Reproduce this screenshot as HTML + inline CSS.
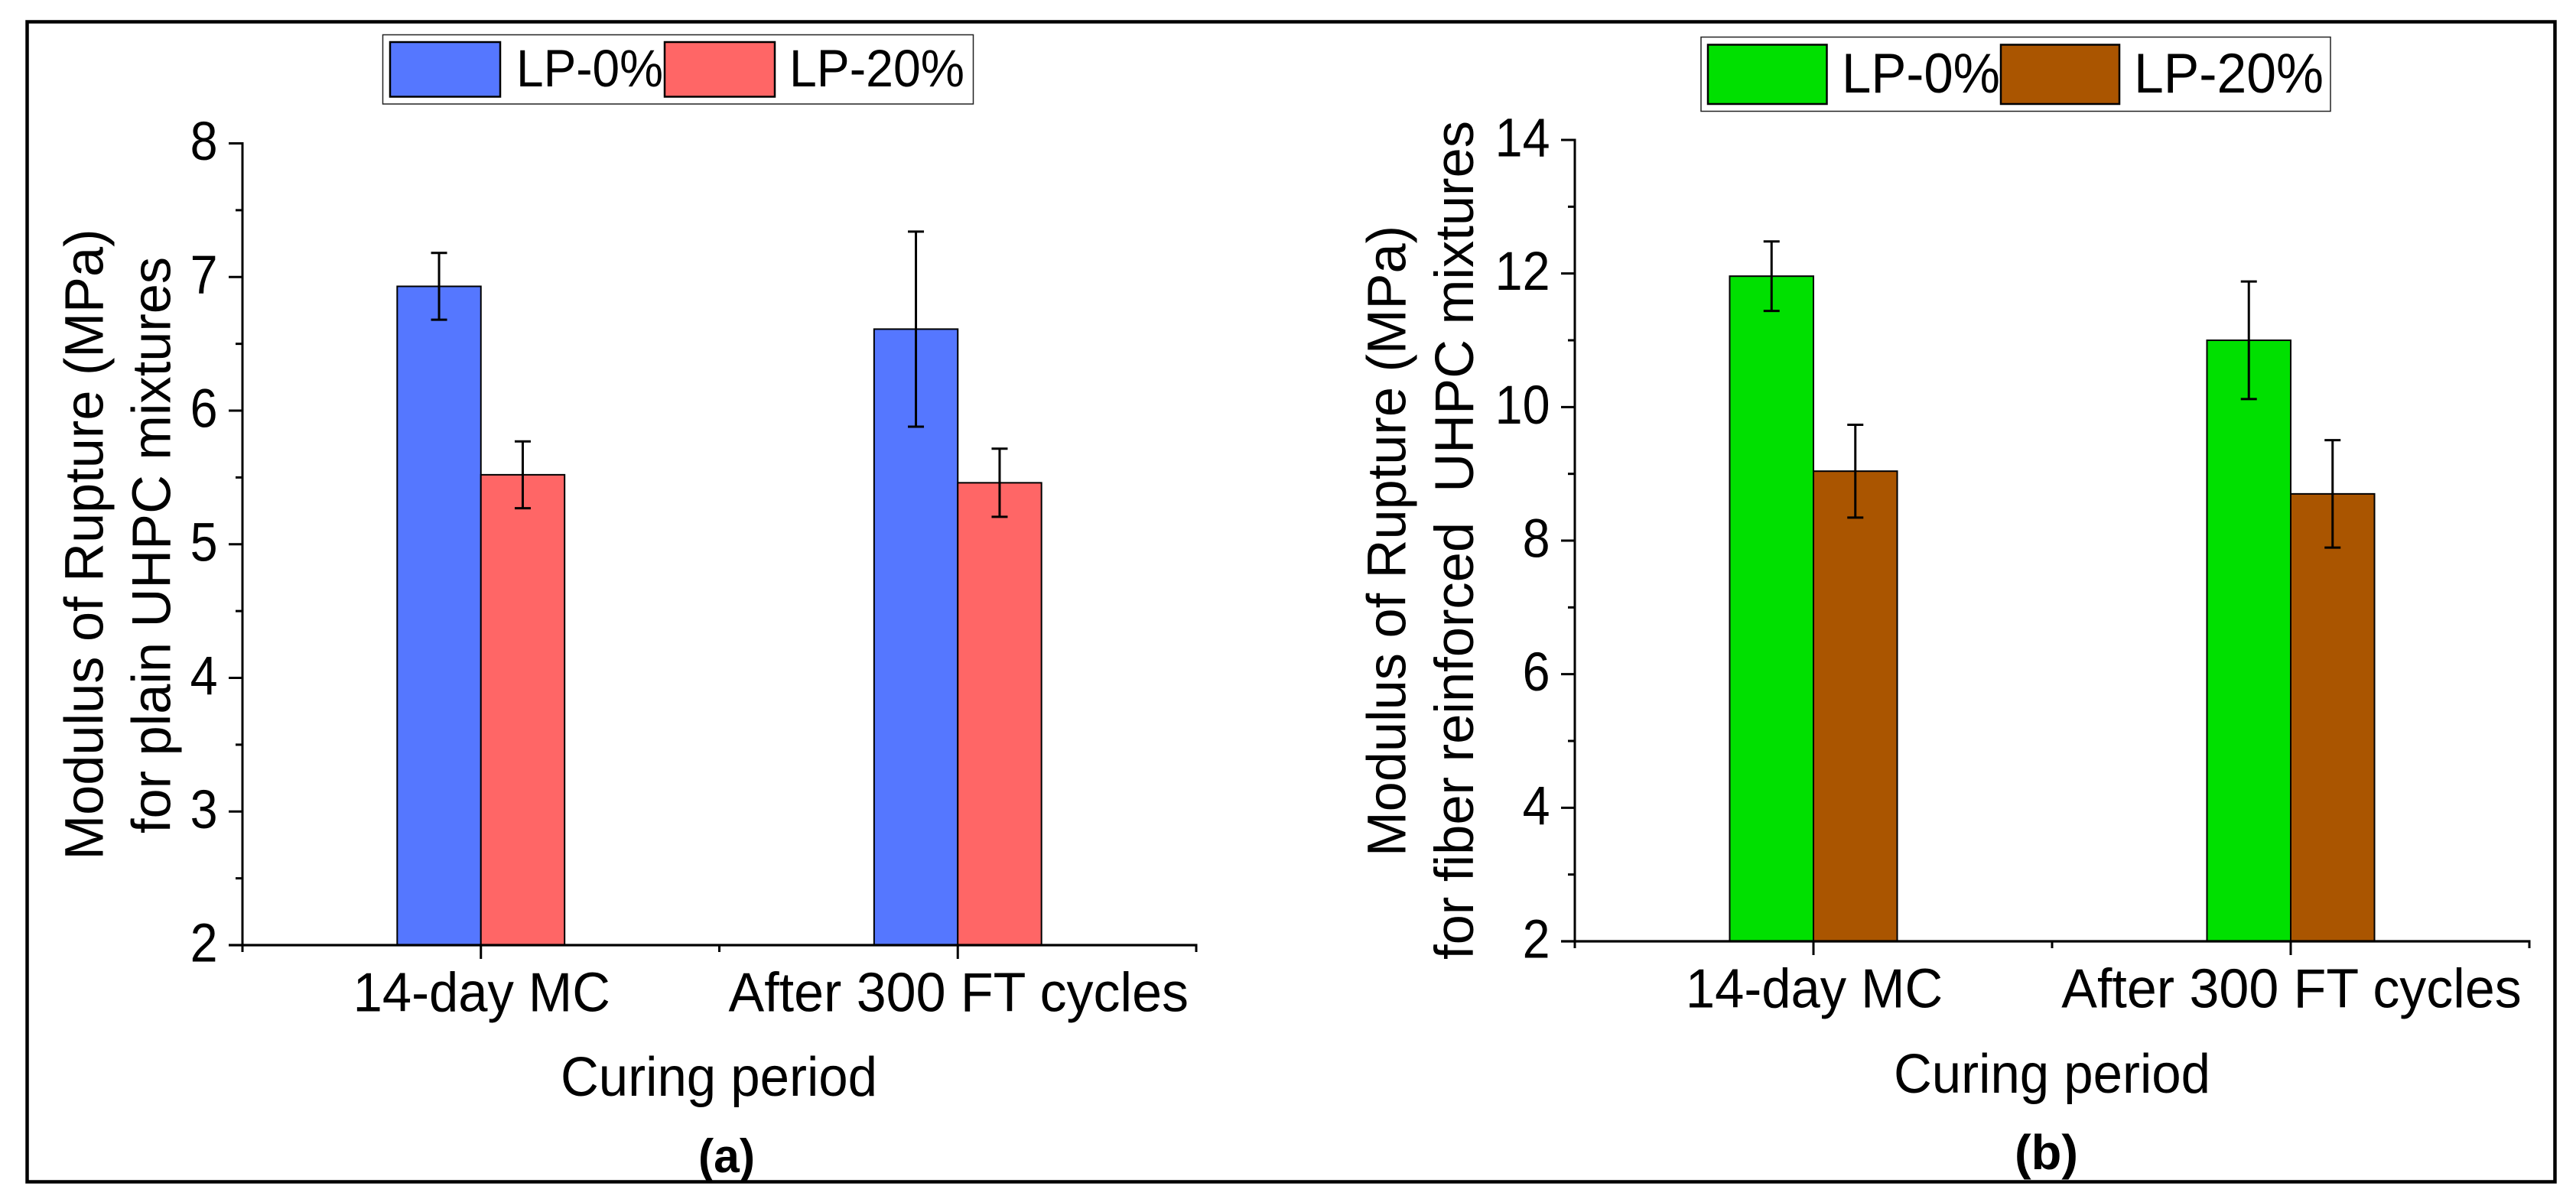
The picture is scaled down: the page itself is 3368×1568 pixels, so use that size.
<!DOCTYPE html>
<html lang="en">
<head>
<meta charset="utf-8">
<title>Modulus of Rupture of UHPC mixtures</title>
<style>
html,body{margin:0;padding:0;background:#fff;}
svg{display:block;}
text{font-family:"Liberation Sans",Arial,sans-serif;fill:#000;white-space:pre;}
</style>
</head>
<body>
<svg id="figure" xmlns="http://www.w3.org/2000/svg" width="3368" height="1568" viewBox="0 0 3368 1568">
  <rect x="0" y="0" width="3368" height="1568" fill="#fff"/>
  <rect x="35.5" y="28.5" width="3305" height="1517" fill="none" stroke="#000" stroke-width="4.5"/>

  <g id="panel-a">
    <g>
      <rect x="500.5" y="45.5" width="772" height="90.5" fill="#fff" stroke="#222" stroke-width="1.5"/>
      <rect x="510" y="55" width="144" height="71.5" fill="#5577ff" stroke="#000" stroke-width="2.5"/>
      <text x="675" y="113" font-size="69" textLength="192" lengthAdjust="spacingAndGlyphs">LP-0%</text>
      <rect x="869" y="55" width="144" height="71.5" fill="#ff6666" stroke="#000" stroke-width="2.5"/>
      <text x="1032" y="113" font-size="69" textLength="229" lengthAdjust="spacingAndGlyphs">LP-20%</text>
    </g>
    <text transform="translate(134.3,1124.5) rotate(-90)" font-size="71" textLength="825" lengthAdjust="spacingAndGlyphs">Modulus of Rupture (MPa)</text>
    <text transform="translate(222.7,1090) rotate(-90)" font-size="71" textLength="754" lengthAdjust="spacingAndGlyphs">for plain UHPC mixtures</text>
    <text x="733" y="1433" font-size="72" textLength="414" lengthAdjust="spacingAndGlyphs">Curing period</text>
    <text x="913" y="1533" font-size="62" font-weight="bold" textLength="74" lengthAdjust="spacingAndGlyphs">(a)</text>
  </g>

  <g id="panel-b">
    <g>
      <rect x="2224" y="48.5" width="823" height="97" fill="#fff" stroke="#222" stroke-width="1.5"/>
      <rect x="2233" y="58.5" width="155.5" height="77.5" fill="#00e000" stroke="#000" stroke-width="2.5"/>
      <text x="2408" y="121" font-size="73" textLength="207" lengthAdjust="spacingAndGlyphs">LP-0%</text>
      <rect x="2616" y="58.5" width="155" height="77.5" fill="#aa5500" stroke="#000" stroke-width="2.5"/>
      <text x="2790" y="121" font-size="73" textLength="248" lengthAdjust="spacingAndGlyphs">LP-20%</text>
    </g>
    <text transform="translate(1837.5,1120) rotate(-90)" font-size="71" textLength="825" lengthAdjust="spacingAndGlyphs">Modulus of Rupture (MPa)</text>
    <text transform="translate(1926,1255) rotate(-90)" font-size="71" textLength="1097" lengthAdjust="spacingAndGlyphs">for fiber reinforced  UHPC mixtures</text>
    <text x="2476" y="1429" font-size="72" textLength="414" lengthAdjust="spacingAndGlyphs">Curing period</text>
    <text x="2634" y="1529" font-size="64" font-weight="bold" textLength="83" lengthAdjust="spacingAndGlyphs">(b)</text>
  </g>
</svg>

<script>
const categories = ["14-day MC", "After 300 FT cycles"];

const yTicksA = [2, 3, 4, 5, 6, 7, 8];
const lp0ValuesA = [6.93, 6.61];
const lp20ValuesA = [5.52, 5.46];
const lp0ErrorsA = [0.25, 0.73];
const lp20ErrorsA = [0.25, 0.255];

const yTicksB = [2, 4, 6, 8, 10, 12, 14];
const lp0ValuesB = [11.96, 11.0];
const lp20ValuesB = [9.04, 8.70];
const lp0ErrorsB = [0.52, 0.88];
const lp20ErrorsB = [0.695, 0.805];

const SVG_NS = "http://www.w3.org/2000/svg";

function shape(parent, tag, props) {
  const el = document.createElementNS(SVG_NS, tag);
  for (const k in props) el.setAttribute(k, props[k]);
  parent.appendChild(el);
  return el;
}

function drawPanel(parent, cfg) {
  const plotW = cfg.xRight - cfg.xLeft;
  const xScale = function (pos) { return cfg.xLeft + (pos - 0.5) / 2 * plotW; };
  const yMin = cfg.ticks[0];
  const yMax = cfg.ticks[cfg.ticks.length - 1];
  const yScale = function (v) { return cfg.yBottom + (v - yMin) / (yMax - yMin) * (cfg.yTop - cfg.yBottom); };
  const barW = 0.1755 / 2 * plotW;

  const series = [
    { values: cfg.lp0, errors: cfg.lp0Err, color: cfg.colors[0], offset: -0.5, key: "lp0" },
    { values: cfg.lp20, errors: cfg.lp20Err, color: cfg.colors[1], offset: 0.5, key: "lp20" }
  ];

  series.forEach(function (s) {
    s.values.forEach(function (v, i) {
      const cx = xScale(i + 1) + s.offset * barW;
      const bar = shape(parent, "rect", {
        x: cx - barW / 2, y: yScale(v), width: barW, height: yScale(yMin) - yScale(v),
        fill: s.color, stroke: "#000", "stroke-width": 2
      });
      
      
    });
  });

  series.forEach(function (s) {
    s.values.forEach(function (v, i) {
      const cx = xScale(i + 1) + s.offset * barW;
      const top = yScale(v + s.errors[i]);
      const bot = yScale(v - s.errors[i]);
      const path = shape(parent, "path", {
        d: "M" + cx + " " + top + "V" + bot +
           "M" + (cx - 10.5) + " " + top + "H" + (cx + 10.5) +
           "M" + (cx - 10.5) + " " + bot + "H" + (cx + 10.5),
        fill: "none", stroke: "#000", "stroke-width": 3
      });
      
      
    });
  });

  const yAxis = shape(parent, "line", {
    x1: cfg.xLeft, x2: cfg.xLeft, y1: cfg.yTop - 1.5, y2: yScale(yMin) + 9,
    stroke: "#000", "stroke-width": 3
  });
  
  

  const xAxis = shape(parent, "line", {
    x1: cfg.xLeft - 18, x2: cfg.xRight + 1.5, y1: cfg.yBottom, y2: cfg.yBottom,
    stroke: "#000", "stroke-width": 3.2
  });
  
  

  cfg.ticks.forEach(function (t, i) {
    const y = yScale(t);
    const tick = shape(parent, "line", {
      x1: cfg.xLeft - 18, x2: cfg.xLeft, y1: y, y2: y, stroke: "#000", "stroke-width": 3
    });
    
    

    const label = shape(parent, "text", {
      transform: "translate(" + (cfg.xLeft - 32.5) + "," + (y + 21.5) + ") scale(0.91,1)",
      "text-anchor": "end", "font-size": 71
    });
    label.textContent = String(t);
    
    

    if (i < cfg.ticks.length - 1) {
      const my = yScale((t + cfg.ticks[i + 1]) / 2);
      const minor = shape(parent, "line", {
        x1: cfg.xLeft - 9, x2: cfg.xLeft, y1: my, y2: my, stroke: "#000", "stroke-width": 3
      });
      
      
    }
  });

  [0.5, 1.5, 2.5].forEach(function (p) {
    const x = xScale(p);
    const minor = shape(parent, "line", {
      x1: x, x2: x, y1: cfg.yBottom, y2: cfg.yBottom + 9, stroke: "#000", "stroke-width": 3
    });
    
    
  });

  categories.forEach(function (c, i) {
    const x = xScale(i + 1);
    const tick = shape(parent, "line", {
      x1: x, x2: x, y1: cfg.yBottom, y2: cfg.yBottom + 18, stroke: "#000", "stroke-width": 3
    });
    
    

    const squeeze = i === 0 ? 0.955 : 0.972;
    const label = shape(parent, "text", {
      transform: "translate(" + (x + 1) + "," + (cfg.yBottom + 86.5) + ") scale(" + squeeze + ",1)",
      "text-anchor": "middle", "font-size": 72
    });
    label.textContent = c;
    
    
  });
}

drawPanel(document.getElementById("panel-a"), {
  id: "a", ticks: yTicksA, lp0: lp0ValuesA, lp20: lp20ValuesA, lp0Err: lp0ErrorsA, lp20Err: lp20ErrorsA,
  colors: ["#5577ff", "#ff6666"], xLeft: 317, xRight: 1564, yTop: 187.5, yBottom: 1236
});
drawPanel(document.getElementById("panel-b"), {
  id: "b", ticks: yTicksB, lp0: lp0ValuesB, lp20: lp20ValuesB, lp0Err: lp0ErrorsB, lp20Err: lp20ErrorsB,
  colors: ["#00e000", "#aa5500"], xLeft: 2059, xRight: 3307, yTop: 183, yBottom: 1231
});
</script>
</body>
</html>
